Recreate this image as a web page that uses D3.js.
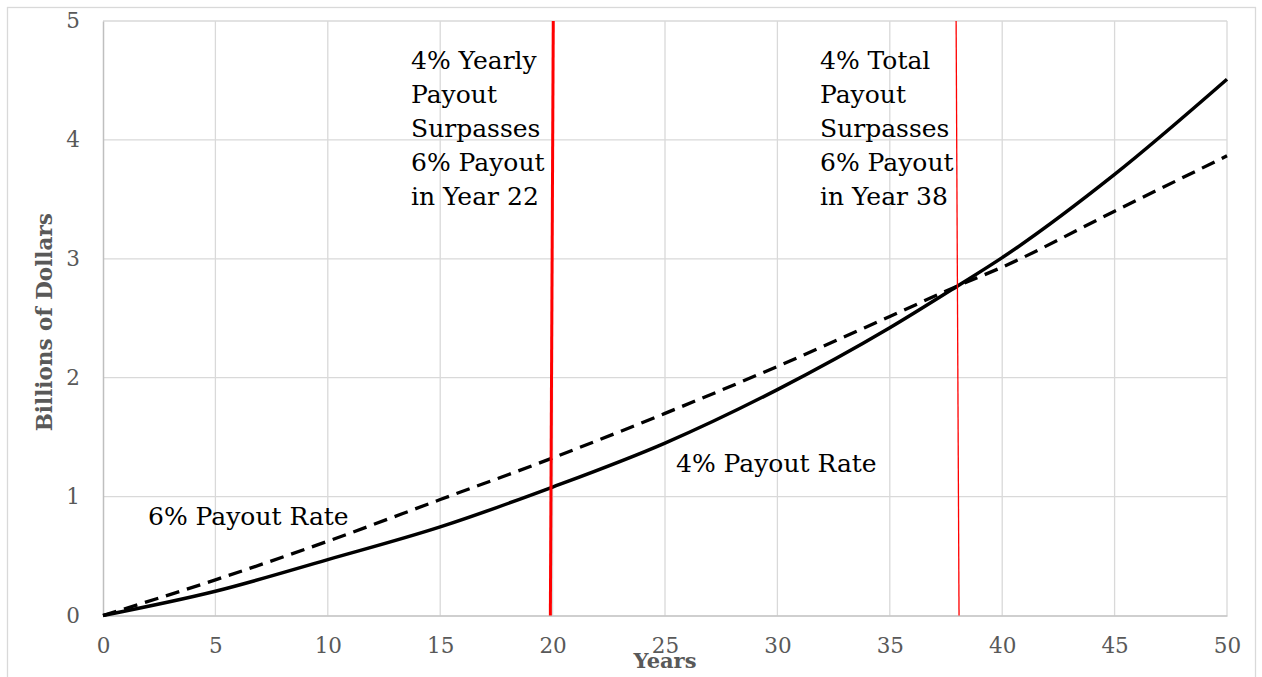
<!DOCTYPE html>
<html>
<head>
<meta charset="utf-8">
<script src="https://cdnjs.cloudflare.com/ajax/libs/d3/7.8.5/d3.min.js"></script>
<style>
  html, body { margin: 0; padding: 0; background: #fff; }
  svg { display: block; }
</style>
</head>
<body>
<svg id="chart" width="1262" height="677"></svg>
<script>
// ---- data ----
const years = [0, 5, 10, 15, 20, 25, 30, 35, 38, 40, 45, 50];
const payout4 = [0, 0.204, 0.47, 0.745, 1.08, 1.45, 1.90, 2.42, 2.77, 3.01, 3.71, 4.51];
const payout6 = [0, 0.30, 0.625, 0.975, 1.325, 1.70, 2.095, 2.515, 2.77, 2.93, 3.40, 3.866];
const xTicks = [0, 5, 10, 15, 20, 25, 30, 35, 40, 45, 50];
const yTicks = [0, 1, 2, 3, 4, 5];
const markerYears = [[20.03, 19.9], [37.95, 38.08]];
const annotation1 = ["4% Yearly", "Payout", "Surpasses", "6% Payout", "in Year 22"];
const annotation2 = ["4% Total", "Payout", "Surpasses", "6% Payout", "in Year 38"];
const seriesLabels = ["6% Payout Rate", "4% Payout Rate"];
const xTitle = "Years";
const yTitle = "Billions of Dollars";

// ---- layout ----
const svg = d3.select("#chart");
const font = "'DejaVu Serif', serif";
const x = d3.scaleLinear().domain([0, 50]).range([103, 1227]);
const y = d3.scaleLinear().domain([0, 5]).range([615.5, 21]);

// outer chart border
svg.append("rect").attr("x", 7.5).attr("y", 7.5).attr("width", 1248).attr("height", 700)
  .attr("fill", "none").attr("stroke", "#d9d9d9").attr("stroke-width", 1.3);

// gridlines
const grid = svg.append("g");
grid.selectAll("line.v").data(xTicks.filter(d => d > 0)).join("line")
  .attr("x1", d => x(d)).attr("x2", d => x(d)).attr("y1", y(5)).attr("y2", y(0))
  .attr("stroke", "#d9d9d9").attr("stroke-width", 1.3);
grid.selectAll("line.h").data(yTicks.filter(d => d > 0)).join("line")
  .attr("x1", x(0)).attr("x2", x(50)).attr("y1", d => y(d)).attr("y2", d => y(d))
  .attr("stroke", "#d9d9d9").attr("stroke-width", 1.3);

// axes
const xAxis = svg.append("g").attr("transform", `translate(0,${y(0)})`)
  .call(d3.axisBottom(x).tickValues(xTicks).tickFormat(d3.format("d")).tickSize(0).tickPadding(22));
const yAxis = svg.append("g").attr("transform", `translate(${x(0)},0)`)
  .call(d3.axisLeft(y).tickValues(yTicks).tickFormat(d3.format("d")).tickSize(0).tickPadding(23));
[xAxis, yAxis].forEach(a => {
  a.select(".domain").attr("stroke", "#bfbfbf").attr("stroke-width", 1.5);
  a.selectAll("text").attr("font-family", font).attr("font-size", 21.5).attr("fill", "#595959");
});

// axis titles
svg.append("text").attr("x", (x(0) + x(50)) / 2).attr("y", 668)
  .attr("text-anchor", "middle").attr("font-family", font).attr("font-weight", "bold")
  .attr("font-size", 21).attr("fill", "#595959").text(xTitle);
svg.append("text").attr("transform", `translate(52,${(y(0) + y(5)) / 2 + 4}) rotate(-90)`)
  .attr("text-anchor", "middle").attr("font-family", font).attr("font-weight", "bold")
  .attr("font-size", 21.5).attr("fill", "#595959").text(yTitle);

// series
const line = d3.line().x(d => x(d[0])).y(d => y(d[1])).curve(d3.curveMonotoneX);
svg.append("path").datum(years.map((yr, i) => [yr, payout6[i]]))
  .attr("d", line).attr("fill", "none").attr("stroke", "#000").attr("stroke-width", 3.3)
  .attr("stroke-dasharray", "14,8");
svg.append("path").datum(years.map((yr, i) => [yr, payout4[i]]))
  .attr("d", line).attr("fill", "none").attr("stroke", "#000").attr("stroke-width", 3.5);

// red marker lines
svg.append("line").attr("x1", x(markerYears[0][0])).attr("x2", x(markerYears[0][1]))
  .attr("y1", y(5)).attr("y2", y(0)).attr("stroke", "#ff0000").attr("stroke-width", 3);
svg.append("line").attr("x1", x(markerYears[1][0])).attr("x2", x(markerYears[1][1]))
  .attr("y1", y(5)).attr("y2", y(0)).attr("stroke", "#ff0000").attr("stroke-width", 1.3);

// annotations
const annSize = 25;
function block(lines, px, py) {
  const t = svg.append("text").attr("font-family", font).attr("font-size", annSize).attr("fill", "#000");
  lines.forEach((s, i) => t.append("tspan").attr("x", px).attr("y", py + i * 34).text(s));
}
block(annotation1, 411, 69);
block(annotation2, 820, 68.5);
svg.append("text").attr("x", 148).attr("y", 525).attr("font-family", font).attr("font-size", annSize)
  .attr("fill", "#000").text(seriesLabels[0]);
svg.append("text").attr("x", 676).attr("y", 472).attr("font-family", font).attr("font-size", annSize)
  .attr("fill", "#000").text(seriesLabels[1]);
</script>
</body>
</html>
